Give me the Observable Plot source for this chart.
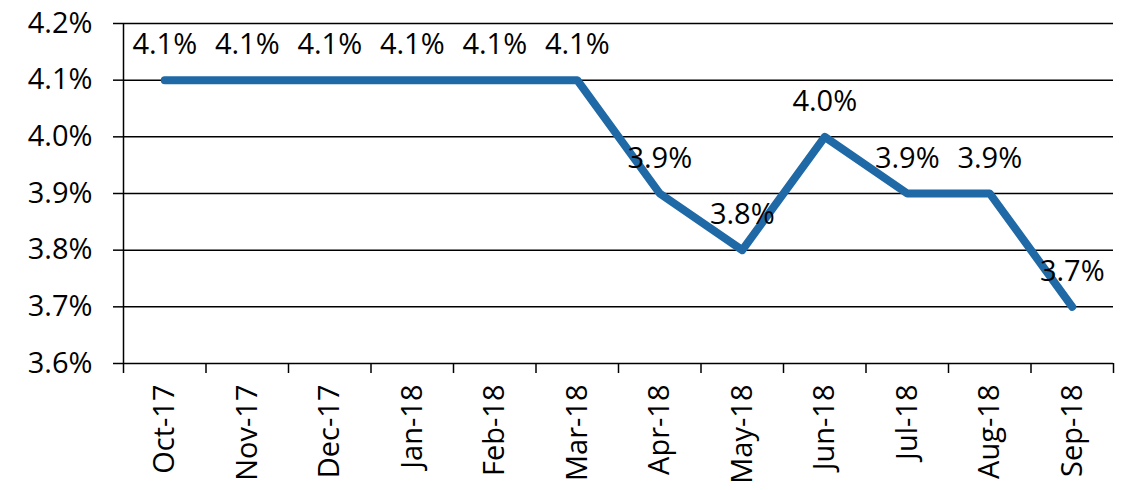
<!DOCTYPE html>
<html>
<head>
<meta charset="utf-8">
<script src="https://cdn.jsdelivr.net/npm/d3@7"></script>
<script src="https://cdn.jsdelivr.net/npm/@observablehq/plot@0.6"></script>
<style>
  html, body { margin: 0; padding: 0; background: #fff; }
  #chart svg { display: block; }
</style>
</head>
<body>
<div id="chart"></div>
<script>
const months = ["Oct-17","Nov-17","Dec-17","Jan-18","Feb-18","Mar-18","Apr-18","May-18","Jun-18","Jul-18","Aug-18","Sep-18"];
const rates = [4.1, 4.1, 4.1, 4.1, 4.1, 4.1, 3.9, 3.8, 4.0, 3.9, 3.9, 3.7];
const yTicks = [3.6, 3.7, 3.8, 3.9, 4.0, 4.1, 4.2];

const data = months.map((m, i) => ({month: m, idx: i + 0.5, rate: rates[i]}));
const boundaries = d3.range(0, months.length + 1);
const centers = months.map((m, i) => i + 0.5);

const font = "'Open Sans', 'Liberation Sans', sans-serif";
const fs = 29;

const chart = Plot.plot({
  width: 1135,
  height: 490,
  marginLeft: 123,
  marginRight: 22,
  marginTop: 23,
  marginBottom: 127,
  style: {fontFamily: font, fontSize: fs + "px", color: "#000", background: "#fff"},
  x: {type: "linear", domain: [0, months.length]},
  y: {domain: [3.6, 4.2]},
  marks: [
    Plot.gridY(yTicks, {stroke: "#000", strokeOpacity: 1, strokeWidth: 1.5}),
    Plot.axisY(yTicks, {tickSize: 10, tickPadding: 21, tickFormat: d => d.toFixed(1) + "%", stroke: "#000", strokeWidth: 1.5, fontSize: fs, label: null}),
    Plot.axisX(boundaries, {tickSize: 10, tickFormat: () => "", stroke: "#000", strokeWidth: 1.5, label: null}),
    Plot.axisX(centers, {tickSize: 0, tickPadding: 21, tickRotate: -90, tickFormat: d => months[Math.round(d - 0.5)], fontSize: 29, label: null}),
    Plot.ruleX([0], {stroke: "#000", strokeWidth: 1.5}),
    Plot.lineY(data, {x: "idx", y: "rate", stroke: "#1f69a6", strokeWidth: 8, strokeLinecap: "round", strokeLinejoin: "round"}),
    Plot.text(data, {x: "idx", y: "rate", text: d => d.rate.toFixed(1) + "%", dy: -35, fill: "#000", fontSize: fs})
  ]
});
document.getElementById("chart").appendChild(chart);
</script>
</body>
</html>
